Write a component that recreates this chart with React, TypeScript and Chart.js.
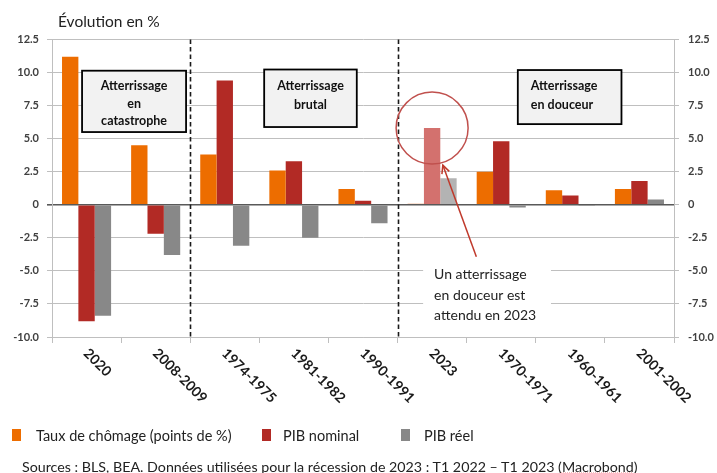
import React, { useEffect, useRef } from "react";
import { Chart, registerables } from "chart.js";

Chart.register(...registerables);

const categories = ["2020", "2008-2009", "1974-1975", "1981-1982", "1990-1991", "2023", "1970-1971", "1960-1961", "2001-2002"];
const unemployment = [11.2, 4.5, 3.8, 2.6, 1.2, 0.1, 2.5, 1.1, 1.2];
const nominalGdp = [-8.8, -2.2, 9.4, 3.3, 0.3, 5.8, 4.8, 0.7, 1.8];
const realGdp = [-8.4, -3.8, -3.1, -2.5, -1.4, 2.0, -0.2, -0.1, 0.4];
const yTickValues = [-10, -7.5, -5, -2.5, 0, 2.5, 5, 7.5, 10, 12.5];
const seriesLabels = ["Taux de chômage (points de %)", "PIB nominal", "PIB réel"];
const highlightIndex = 5;

const ORANGE = "#ED6D00";
const RED = "#B22A25";
const GREY = "#888888";
const ORANGE_LIGHT = "#F6C3A6";
const RED_LIGHT = "#D3716E";
const GREY_LIGHT = "#B3B3B3";
const FONT = "Lato, 'Open Sans', sans-serif";

const colorsFor = (base: string, light: string) =>
  categories.map((_, i) => (i === highlightIndex ? light : base));

const fmt = (v: number) => (v === 0 ? "0" : v.toFixed(1));

const annotationPlugin = {
  id: "annotations",
  beforeDatasetsDraw(chart: any) {
    const { ctx, scales } = chart;
    const x = scales.x;
    const y = scales.y;
    const step = x.getPixelForValue(1) - x.getPixelForValue(0);
    const X = (c: number) => x.getPixelForValue(0) + c * step;
    const Y = (v: number) => y.getPixelForValue(v);
    ctx.save();
    ctx.fillStyle = "#ffffff";
    ctx.fillRect(X(4.87), Y(-4.3), X(6.72) - X(4.87), Y(-9.4) - Y(-4.3));
    ctx.restore();
  },
  afterDatasetsDraw(chart: any) {
    const { ctx, scales, chartArea } = chart;
    const x = scales.x;
    const y = scales.y;
    const step = x.getPixelForValue(1) - x.getPixelForValue(0);
    const X = (c: number) => x.getPixelForValue(0) + c * step;
    const Y = (v: number) => y.getPixelForValue(v);

    ctx.save();
    // dashed separators
    ctx.strokeStyle = "#1a1a1a";
    ctx.lineWidth = 1.6;
    ctx.setLineDash([4.5, 3]);
    [1.5, 4.5].forEach((c) => {
      const px = Math.round(X(c)) + 0.5;
      ctx.beginPath();
      ctx.moveTo(px, chartArea.top);
      ctx.lineTo(px, chartArea.bottom);
      ctx.stroke();
    });
    ctx.setLineDash([]);

    // boxes
    const boxes = [
      { c0: -0.065, c1: 1.44, v0: 10.14, v1: 5.5, lines: ["Atterrissage", "en", "catastrophe"], align: "center", offs: [15.5, 33.5, 50.5] },
      { c0: 2.57, c1: 3.91, v0: 10.23, v1: 5.88, lines: ["Atterrissage", "brutal"], align: "center", offs: [16.5, 35.5] },
      { c0: 6.24, c1: 7.74, v0: 10.19, v1: 6.1, lines: ["Atterrissage", "en douceur"], align: "left", offs: [15.7, 34.7] },
    ];
    boxes.forEach((b) => {
      const l = X(b.c0), r = X(b.c1), t = Y(b.v0), bt = Y(b.v1);
      ctx.fillStyle = "#F2F2F2";
      ctx.fillRect(l, t, r - l, bt - t);
      ctx.strokeStyle = "#000000";
      ctx.lineWidth = 1.8;
      ctx.strokeRect(l, t, r - l, bt - t);
      ctx.fillStyle = "#111111";
      ctx.font = `bold 12.5px ${FONT}`;
      ctx.textBaseline = "middle";
      b.lines.forEach((line, i) => {
        if (b.align === "center") {
          ctx.textAlign = "center";
          ctx.fillText(line, (l + r) / 2, t + b.offs[i]);
        } else {
          ctx.textAlign = "left";
          ctx.fillText(line, l + 13, t + b.offs[i]);
        }
      });
    });

    // circle around 2023 nominal GDP
    ctx.strokeStyle = "#C0504D";
    ctx.lineWidth = 1.5;
    ctx.beginPath();
    ctx.arc(X(5), Y(5.8), 36, 0, Math.PI * 2);
    ctx.stroke();

    // arrow
    const ax0 = X(5.64), ay0 = Y(-3.93);
    const ax1 = X(5.155), ay1 = Y(3.0);
    ctx.strokeStyle = "#C0392B";
    ctx.lineWidth = 1.5;
    ctx.beginPath();
    ctx.moveTo(ax0, ay0);
    ctx.lineTo(ax1, ay1);
    ctx.stroke();
    const ang = Math.atan2(ay1 - ay0, ax1 - ax0);
    const hl = 9;
    ctx.beginPath();
    ctx.moveTo(ax1 - hl * Math.cos(ang - 0.45), ay1 - hl * Math.sin(ang - 0.45));
    ctx.lineTo(ax1, ay1);
    ctx.lineTo(ax1 - hl * Math.cos(ang + 0.45), ay1 - hl * Math.sin(ang + 0.45));
    ctx.stroke();

    // callout text
    ctx.fillStyle = "#222222";
    ctx.font = `14px ${FONT}`;
    ctx.textAlign = "left";
    ctx.textBaseline = "middle";
    const tx = X(5) + 2;
    ["Un atterrissage", "en douceur est", "attendu en 2023"].forEach((line, i) => {
      ctx.fillText(line, tx, Y([-5.26, -6.83, -8.4][i]));
    });
    ctx.restore();
  },
  afterDraw(chart: any) {
    const { ctx, scales } = chart;
    const x = scales.x;
    ctx.save();
    ctx.fillStyle = "#1a1a1a";
    ctx.font = `bold 14px ${FONT}`;
    ctx.textAlign = "left";
    ctx.textBaseline = "middle";
    categories.forEach((label, i) => {
      const px = x.getPixelForValue(i) - 0.5;
      ctx.save();
      ctx.translate(px, x.top + 14);
      ctx.rotate(Math.PI / 4);
      ctx.fillText(label, 0, 0);
      ctx.restore();
    });
    ctx.restore();
  },
};

function ChartCanvas() {
  const ref = useRef<HTMLCanvasElement | null>(null);
  useEffect(() => {
    if (!ref.current) return;
    const yCommon = {
      min: -10,
      max: 12.5,
      afterBuildTicks: (scale: any) => {
        scale.ticks = yTickValues.map((v) => ({ value: v }));
      },
    };
    const chart = new Chart(ref.current, {
      type: "bar",
      data: {
        labels: categories,
        datasets: [
          { label: seriesLabels[0], data: unemployment, backgroundColor: colorsFor(ORANGE, ORANGE_LIGHT), yAxisID: "y" },
          { label: seriesLabels[1], data: nominalGdp, backgroundColor: colorsFor(RED, RED_LIGHT), yAxisID: "y" },
          { label: seriesLabels[2], data: realGdp, backgroundColor: colorsFor(GREY, GREY_LIGHT), yAxisID: "y" },
        ],
      },
      options: {
        responsive: false,
        animation: false,
        devicePixelRatio: 1,
        layout: { padding: { top: 39.5, left: 0, right: 0, bottom: 0 } },
        datasets: { bar: { categoryPercentage: 0.71, barPercentage: 1 } },
        plugins: { legend: { display: false }, tooltip: { enabled: false }, title: { display: false } },
        scales: {
          x: {
            ticks: { display: false },
            grid: { offset: true, drawOnChartArea: false, drawTicks: true, tickLength: 6, color: "#BFBFBF", lineWidth: 1 },
            border: { display: true, color: "#BFBFBF", width: 1 },
            afterFit: (scale: any) => {
              scale.height = 136;
            },
          },
          y: {
            ...yCommon,
            position: "left",
            ticks: {
              padding: 8,
              color: "#404040",
              font: { family: FONT, size: 11, weight: "bold" },
              callback: (v: any) => fmt(Number(v)),
            },
            grid: {
              drawTicks: true,
              tickLength: 5,
              color: (c: any) => (c.tick && c.tick.value === 0 ? "#595959" : "#BFBFBF"),
              lineWidth: (c: any) => (c.tick && c.tick.value === 0 ? 1.6 : 1),
            },
            border: { display: true, color: "#BFBFBF", width: 1 },
            afterFit: (scale: any) => {
              scale.width = 52;
            },
          },
          y2: {
            ...yCommon,
            position: "right",
            ticks: {
              padding: 9,
              color: "#404040",
              font: { family: FONT, size: 11, weight: "bold" },
              callback: (v: any) => fmt(Number(v)),
            },
            grid: { drawOnChartArea: false, drawTicks: true, tickLength: 5, color: "#BFBFBF" },
            border: { display: true, color: "#BFBFBF", width: 1 },
            afterFit: (scale: any) => {
              scale.width = 43;
            },
          },
        },
      },
      plugins: [annotationPlugin],
    } as any);
    return () => chart.destroy();
  }, []);
  return <canvas ref={ref} width={717} height={473} style={{ position: "absolute", left: 0, top: 0 }} />;
}

const legendColors = [ORANGE, RED, GREY];
const legendBoxX = [12, 262, 401];
const legendTextX = [36, 283, 424];

export default function App() {
  return (
    <div
      style={{
        position: "fixed",
        left: 0,
        top: 0,
        width: 717,
        height: 473,
        background: "#ffffff",
        overflow: "hidden",
        fontFamily: FONT,
        color: "#222222",
      }}
    >
      <ChartCanvas />
      <div style={{ position: "absolute", left: 58, top: 22, transform: "translateY(-50%)", fontSize: 15.5, lineHeight: 1, whiteSpace: "nowrap" }}>
        Évolution en %
      </div>
      {seriesLabels.map((s, i) => (
        <React.Fragment key={s}>
          <div style={{ position: "absolute", left: legendBoxX[i], top: 429, width: 9, height: 12, background: legendColors[i] }} />
          <div style={{ position: "absolute", left: legendTextX[i], top: 435.5, transform: "translateY(-50%)", fontSize: 14.5, lineHeight: 1, whiteSpace: "nowrap" }}>
            {s}
          </div>
        </React.Fragment>
      ))}
      <div style={{ position: "absolute", left: 22, top: 466.5, transform: "translateY(-50%)", fontSize: 14.25, lineHeight: 1, whiteSpace: "nowrap" }}>
        Sources : BLS, BEA. Données utilisées pour la récession de 2023 : T1 2022 – T1 2023 (
        <span style={{ textDecoration: "underline dotted #E03030" }}>Macrobond</span>)
      </div>
    </div>
  );
}
